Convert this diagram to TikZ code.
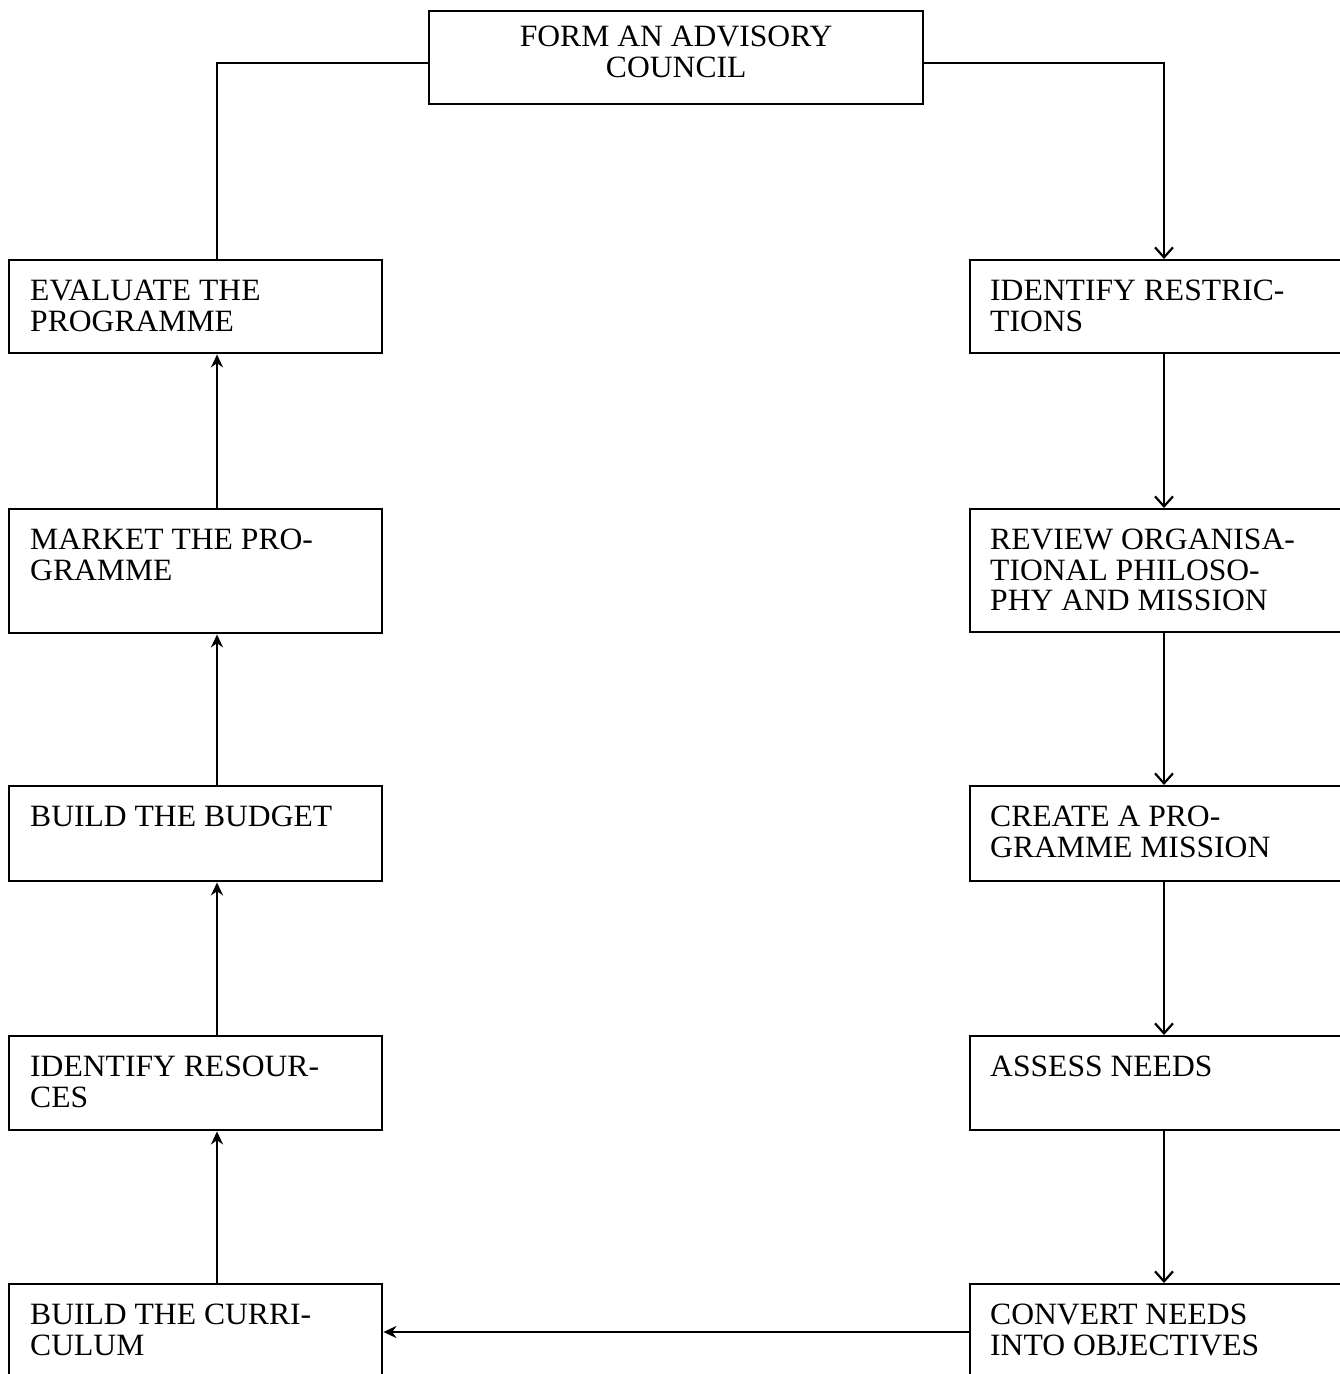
\documentclass[tikz,border=0pt]{standalone}
\usepackage{fontspec}
\setmainfont{Liberation Serif}[FakeStretch=1.02]
\usetikzlibrary{arrows.meta,calc}

\tikzset{
  x=1pt, y=-1pt,
  box/.style={draw, line width=2.4pt, anchor=north west, inner sep=0pt, minimum width=#1},
  box/.default=373pt,
  label/.style={anchor=north west, inner sep=0pt, align=left,
    font=\fontsize{31}{30.5}\selectfont},
  conn/.style={line width=2.2pt},
  uparrow/.style={conn, -{Stealth[length=13pt,width=12pt]}},
  downarrow/.style={conn, -{Straight Barb[length=10pt,width=18pt,line width=2.2pt]}},
}

\begin{document}
\begin{tikzpicture}
  \useasboundingbox (0,0) rectangle (1340,1374);
  \clip (0,0) rectangle (1340,1374);

  % column guides for the connectors
  \coordinate (lx) at (217,0);
  \coordinate (rx) at (1164,0);
  \coordinate (ty) at (0,63);
  \coordinate (by) at (0,1332);

  % top box
  \node[box=494pt, minimum height=93pt] (form) at (428,10) {};
  \node[anchor=north, inner sep=0pt, align=center,
        font=\fontsize{31}{30.5}\selectfont]
        at ($(form.north)+(0,16)$) {FORM AN ADVISORY\\COUNCIL};

  % left column
  \node[box, minimum height=93pt]  (eval)   at (8,259)  {};
  \node[box, minimum height=124pt] (market) at (8,508)  {};
  \node[box, minimum height=95pt]  (budget) at (8,785)  {};
  \node[box, minimum height=94pt]  (res)    at (8,1035) {};
  \node[box, minimum height=140pt] (curr)   at (8,1283) {};

  \node[label] at ($(eval.north west)+(22,21)$)   {EVALUATE THE\\PROGRAMME};
  \node[label] at ($(market.north west)+(22,21)$) {MARKET THE PRO-\\GRAMME};
  \node[label] at ($(budget.north west)+(22,21)$) {BUILD THE BUDGET};
  \node[label] at ($(res.north west)+(22,21)$)    {IDENTIFY RESOUR-\\CES};
  \node[label] at ($(curr.north west)+(22,21)$)   {BUILD THE CURRI-\\CULUM};

  % right column
  \node[box=420pt, minimum height=93pt]  (restr)  at (969,259)  {};
  \node[box=420pt, minimum height=123pt] (review) at (969,508)  {};
  \node[box=420pt, minimum height=95pt]  (create) at (969,785)  {};
  \node[box=420pt, minimum height=94pt]  (assess) at (969,1035) {};
  \node[box=420pt, minimum height=140pt] (conv)   at (969,1283) {};

  \node[label] at ($(restr.north west)+(21,21)$)  {IDENTIFY RESTRIC-\\TIONS};
  \node[label] at ($(review.north west)+(21,21)$) {REVIEW ORGANISA-\\TIONAL PHILOSO-\\PHY AND MISSION};
  \node[label] at ($(create.north west)+(21,21)$) {CREATE A PRO-\\GRAMME MISSION};
  \node[label] at ($(assess.north west)+(21,21)$) {ASSESS NEEDS};
  \node[label] at ($(conv.north west)+(21,21)$)   {CONVERT NEEDS\\INTO OBJECTIVES};

  % loop through the top box
  \draw[conn] (eval.north -| lx) |- (form.west |- ty);
  \draw[downarrow] (form.east |- ty) -| (restr.north -| rx);

  % right column, downwards
  \draw[downarrow] (restr.south -| rx)  -- (review.north -| rx);
  \draw[downarrow] (review.south -| rx) -- (create.north -| rx);
  \draw[downarrow] (create.south -| rx) -- (assess.north -| rx);
  \draw[downarrow] (assess.south -| rx) -- (conv.north -| rx);

  % across the bottom
  \draw[uparrow] (conv.west |- by) -- (curr.east |- by);

  % left column, upwards
  \draw[uparrow] (curr.north -| lx)   -- (res.south -| lx);
  \draw[uparrow] (res.north -| lx)    -- (budget.south -| lx);
  \draw[uparrow] (budget.north -| lx) -- (market.south -| lx);
  \draw[uparrow] (market.north -| lx) -- (eval.south -| lx);
\end{tikzpicture}
\end{document}
